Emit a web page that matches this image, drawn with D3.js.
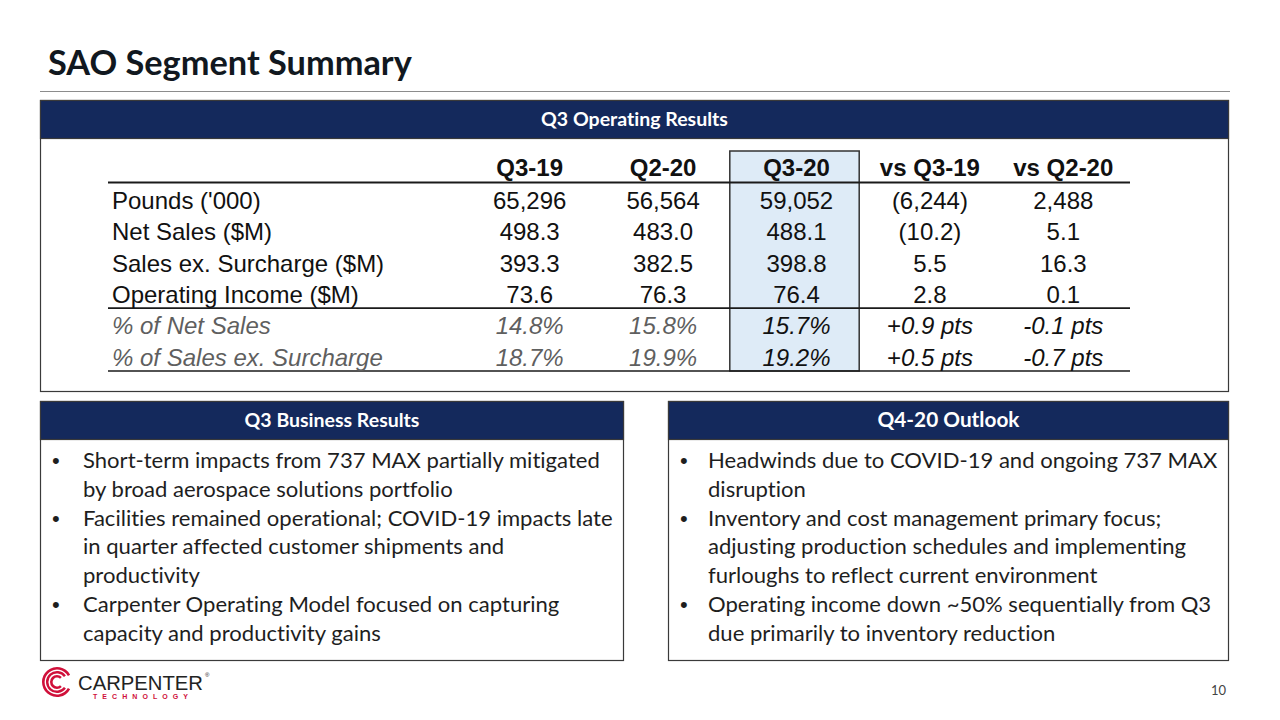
<!DOCTYPE html>
<html><head><meta charset="utf-8">
<script src="https://cdn.jsdelivr.net/npm/d3@7"></script>
<style>body{margin:0;background:#fff} svg{display:block} text{font-variant-ligatures:none;font-feature-settings:"liga" 0}</style>
</head><body><svg id="c" width="1280" height="720"></svg>
<script>
// ---------- DATA ----------
const columns = ["Q3-19", "Q2-20", "Q3-20", "vs Q3-19", "vs Q2-20"];
const rowLabels = ["Pounds ('000)", "Net Sales ($M)", "Sales ex. Surcharge ($M)", "Operating Income ($M)", "% of Net Sales", "% of Sales ex. Surcharge"];
const rowKinds = ["int", "dec", "dec", "dec", "pct", "pct"];
const q3_19 = [65296, 498.3, 393.3, 73.6, 14.8, 18.7];
const q2_20 = [56564, 483.0, 382.5, 76.3, 15.8, 19.9];
const q3_20 = [59052, 488.1, 398.8, 76.4, 15.7, 19.2];
const vsQ3_19 = [-6244, -10.2, 5.5, 2.8, 0.9, 0.5];
const vsQ2_20 = [2488, 5.1, 16.3, 0.1, -0.1, -0.7];
const businessResults = [
  ["Short-term impacts from 737 MAX partially mitigated", "by broad aerospace solutions portfolio"],
  ["Facilities remained operational; COVID-19 impacts late", "in quarter affected customer shipments and", "productivity"],
  ["Carpenter Operating Model focused on capturing", "capacity and productivity gains"]
];
const outlook = [
  ["Headwinds due to COVID-19 and ongoing 737 MAX", "disruption"],
  ["Inventory and cost management primary focus;", "adjusting production schedules and implementing", "furloughs to reflect current environment"],
  ["Operating income down ~50% sequentially from Q3", "due primarily to inventory reduction"]
];

// ---------- SETUP ----------
const NAVY = "#14295c";
const svg = d3.select("#c");
const SANS = "Lato, 'Open Sans', sans-serif";
const ARIAL = "'Liberation Sans', Arial, sans-serif";

function fitSize(sel, target, base) {
  const w = sel.node().getComputedTextLength();
  sel.attr("font-size", base * target / w);
  return base * target / w;
}

// Title
const title = svg.append("text").attr("x", 48).attr("y", 75)
  .attr("font-family", SANS).attr("font-weight", 700).attr("font-size", 30)
  .attr("fill", "#111820").text("SAO Segment Summary");
fitSize(title, 364, 30);

svg.append("line").attr("x1", 40).attr("x2", 1230).attr("y1", 91.5).attr("y2", 91.5)
  .attr("stroke", "#8c8c8c").attr("stroke-width", 1.2);

// Panel helper
function panel(x, y, w, h, label, labelW) {
  const g = svg.append("g");
  g.append("rect").attr("x", x).attr("y", y).attr("width", w).attr("height", h)
    .attr("fill", "#fff").attr("stroke", "#3a3a3a").attr("stroke-width", 1.2);
  g.append("rect").attr("x", x).attr("y", y).attr("width", w).attr("height", 38)
    .attr("fill", NAVY).attr("stroke", "#3a3a3a").attr("stroke-width", 1.2);
  const t = g.append("text").attr("x", x + w / 2).attr("y", y + 25)
    .attr("text-anchor", "middle").attr("font-family", SANS).attr("font-weight", 700)
    .attr("font-size", 17).attr("fill", "#fff").text(label);
  fitSize(t, labelW, 17);
  return g;
}

panel(40.5, 100.5, 1188, 291, "Q3 Operating Results", 187);
panel(40.5, 401.5, 583, 259, "Q3 Business Results", 175);
panel(668.5, 401.5, 560, 259, "Q4-20 Outlook", 142);

// ---------- TABLE ----------
const rowKeys = ["header"].concat(rowLabels);
const y = d3.scaleBand().domain(rowKeys).range([151, 371]);
const x = d3.scaleBand().domain(columns).range([463, 1130]);
const TFS = 24;

// Highlight column
svg.append("rect")
  .attr("x", x("Q3-20")).attr("y", y.range()[0])
  .attr("width", x.bandwidth() - 4).attr("height", y.range()[1] - y.range()[0])
  .attr("fill", "#deebf7").attr("stroke", "#333").attr("stroke-width", 1.5);

// Rules
const tableLeft = 108, tableRight = 1130;
[[y("Pounds ('000)"), 2], [y("% of Net Sales"), 1.6], [y.range()[1], 1.6]].forEach(([yy, sw]) => {
  svg.append("line").attr("x1", tableLeft).attr("x2", tableRight).attr("y1", yy).attr("y2", yy)
    .attr("stroke", "#1a1a1a").attr("stroke-width", sw);
});

const mid = k => y(k) + y.bandwidth() / 2;

// Header
svg.append("g").selectAll("text").data(columns).join("text")
  .attr("x", d => x(d) + x.bandwidth() / 2).attr("y", mid("header") + 9.5)
  .attr("text-anchor", "middle").attr("font-family", ARIAL).attr("font-weight", 700)
  .attr("font-size", TFS).attr("fill", "#111").text(d => d);

const fInt = d3.format(","), fDec = d3.format(".1f");
function fmtMain(v, kind) {
  if (kind === "pct") return fDec(v) + "%";
  return kind === "int" ? fInt(v) : fDec(v);
}
function fmtVar(v, kind) {
  if (kind === "pct") return (v >= 0 ? "+" : "-") + fDec(Math.abs(v)) + " pts";
  const s = kind === "int" ? fInt(Math.abs(v)) : fDec(Math.abs(v));
  return v < 0 ? "(" + s + ")" : s;
}

const colData = [q3_19, q2_20, q3_20, vsQ3_19, vsQ2_20];
const cells = [];
rowLabels.forEach((lab, i) => {
  const kind = rowKinds[i];
  const italic = kind === "pct";
  cells.push({ x: tableLeft + 4, anchor: "start", row: lab, text: lab, italic, gray: italic });
  columns.forEach((c, j) => {
    const v = colData[j][i];
    cells.push({
      x: x(c) + x.bandwidth() / 2, anchor: "middle", row: lab,
      text: j < 3 ? fmtMain(v, kind) : fmtVar(v, kind),
      italic, gray: italic && j < 2
    });
  });
});

svg.append("g").selectAll("text").data(cells).join("text")
  .attr("x", d => d.x).attr("y", d => mid(d.row) + 10.5)
  .attr("text-anchor", d => d.anchor)
  .attr("font-family", ARIAL).attr("font-size", TFS)
  .attr("font-style", d => d.italic ? "italic" : "normal")
  .attr("fill", d => d.gray ? "#5f5f5f" : "#111")
  .text(d => d.text);

// ---------- BULLETS ----------
const probe = svg.append("text").attr("font-family", SANS).attr("font-size", 21)
  .text(businessResults[0][0]);
const bulletSize = fitSize(probe, 517, 21);
probe.remove();

function bullets(list, bx, tx) {
  let lines = [];
  list.forEach(b => b.forEach((l, k) => lines.push({ text: l, first: k === 0 })));
  const ly = d3.scaleLinear().domain([0, 1]).range([468, 496.8]);
  const g = svg.append("g");
  g.selectAll("text.t").data(lines).join("text").attr("class", "t")
    .attr("x", tx).attr("y", (d, i) => ly(i))
    .attr("font-family", SANS).attr("font-size", bulletSize).attr("fill", "#1e1e1e")
    .text(d => d.text);
  g.selectAll("text.b").data(lines.filter(d => d.first)).join("text").attr("class", "b")
    .attr("x", bx).attr("y", d => ly(lines.indexOf(d)))
    .attr("font-family", ARIAL).attr("font-size", bulletSize).attr("fill", "#1e1e1e")
    .text("\u2022");
}
bullets(businessResults, 52, 83);
bullets(outlook, 680, 708);

// ---------- FOOTER ----------
const RED = "#d0103a";
const logo = svg.append("g").attr("transform", "translate(57,682)");
const arc = d3.arc();
[[15, 2.6, 0.16], [11, 2.4, 0.2], [7, 2.6, 0.26]].forEach(([r, t, gap]) => {
  logo.append("path").attr("d", arc({
    innerRadius: r - t, outerRadius: r,
    startAngle: Math.PI * (0.5 + gap), endAngle: Math.PI * (2.5 - gap)
  })).attr("fill", RED);
});
svg.append("text").attr("x", 78).attr("y", 689.5).attr("font-family", ARIAL)
  .attr("font-size", 21).attr("fill", "#222").attr("textLength", 125)
  .attr("lengthAdjust", "spacingAndGlyphs").text("CARPENTER");
svg.append("text").attr("x", 205).attr("y", 677).attr("font-family", ARIAL)
  .attr("font-size", 6).attr("fill", "#222").text("®");
svg.append("text").attr("x", 93).attr("y", 698.5).attr("font-family", ARIAL)
  .attr("font-size", 7).attr("font-weight", 700).attr("fill", RED)
  .attr("textLength", 95).attr("lengthAdjust", "spacing").text("TECHNOLOGY");

svg.append("text").attr("x", 1226).attr("y", 695).attr("text-anchor", "end")
  .attr("font-family", SANS).attr("font-size", 13).attr("fill", "#444").text("10");
</script>
</body></html>
